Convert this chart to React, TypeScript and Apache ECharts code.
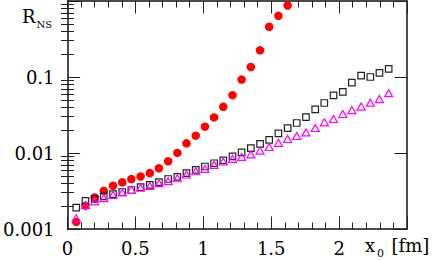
import React, { useEffect, useRef } from "react";
import * as echarts from "echarts";

const xValues = [
  0.064, 0.132, 0.2, 0.267, 0.335, 0.403, 0.47, 0.538, 0.606, 0.673, 0.741, 0.809,
  0.876, 0.944, 1.012, 1.079, 1.147, 1.215, 1.282, 1.35, 1.418, 1.485, 1.553, 1.621,
  1.688, 1.756, 1.824, 1.891, 1.959, 2.027, 2.094, 2.162, 2.23, 2.297, 2.365,
];

const redValues = [
  0.00124, 0.00203, 0.0026, 0.00318, 0.00371, 0.00412, 0.00454, 0.00491, 0.00545,
  0.0063, 0.00778, 0.01003, 0.0134, 0.0169, 0.0222, 0.0294, 0.0406, 0.0577, 0.0925,
  0.1355, 0.2244, 0.458, 0.638, 0.873,
];

const squareValues = [
  0.00191, 0.00234, 0.00249, 0.00268, 0.00287, 0.00307, 0.00326, 0.00355, 0.0038,
  0.00415, 0.00455, 0.00486, 0.00542, 0.006, 0.00664, 0.00733, 0.00802, 0.00905,
  0.01021, 0.0116, 0.01316, 0.01485, 0.0181, 0.0213, 0.0248, 0.0297, 0.0376, 0.0455,
  0.0574, 0.0638, 0.0842, 0.104, 0.1, 0.1132, 0.1277,
];

const triangleValues = [
  0.00138, 0.00205, 0.00231, 0.00255, 0.00281, 0.00303, 0.00328, 0.00349, 0.00368,
  0.00401, 0.00426, 0.00466, 0.00521, 0.00576, 0.00619, 0.00698, 0.00772, 0.00837,
  0.00889, 0.00959, 0.01075, 0.012, 0.0136, 0.0153, 0.01675, 0.01867, 0.0213, 0.0253,
  0.028, 0.0326, 0.0367, 0.0408, 0.046, 0.0512, 0.0613,
];

const xTickLabels = ["0", "0.5", "1", "1.5", "2"];
const yTickLabels = ["0.001", "0.01", "0.1"];
const yMinorTicks = [
  0.002, 0.003, 0.004, 0.005, 0.006, 0.007, 0.008, 0.009,
  0.02, 0.03, 0.04, 0.05, 0.06, 0.07, 0.08, 0.09,
  0.2, 0.3, 0.4, 0.5, 0.6, 0.7, 0.8, 0.9,
];

const FONT = '"DejaVu Serif"';
const AXIS_COLOR = "#111";
const TICK_COLOR = "#222";

export default function App() {
  const ref = useRef<HTMLDivElement>(null);

  useEffect(() => {
    if (!ref.current) return;
    const chart = echarts.init(ref.current, null, { renderer: "svg" });

    const xAxisBase = {
      type: "value",
      min: 0,
      max: 2.5,
      interval: 0.5,
      axisLine: { show: true, onZero: false, lineStyle: { color: AXIS_COLOR, width: 1.5 } },
      axisTick: { show: true, inside: true, length: 12.5, lineStyle: { color: TICK_COLOR, width: 1 } },
      minorTick: { show: true, splitNumber: 5, length: 6.5, lineStyle: { color: TICK_COLOR, width: 1 } },
      splitLine: { show: false },
      minorSplitLine: { show: false },
    };

    const yAxisBase = {
      type: "log",
      logBase: 10,
      min: 0.001,
      max: 1,
      splitLine: { show: false },
    };

    const pair = (vals: number[]) => vals.map((v, i) => [xValues[i], v]);

    chart.setOption({
      animation: false,
      backgroundColor: "#fff",
      grid: { left: 65, right: 29, top: 1, bottom: 32, containLabel: false },
      xAxis: [
        {
          ...xAxisBase,
          position: "bottom",
          axisLabel: {
            show: true,
            margin: 10,
            color: "#000",
            fontFamily: FONT,
            fontSize: 18,
            formatter: (_v: number, i: number) => xTickLabels[i] ?? "",
          },
        },
        {
          ...xAxisBase,
          position: "top",
          axisLabel: { show: false },
        },
      ],
      yAxis: [
        {
          ...yAxisBase,
          position: "left",
          axisLine: { show: true, onZero: false, lineStyle: { color: AXIS_COLOR, width: 1.5 } },
          axisTick: { show: true, inside: true, length: 12.5, lineStyle: { color: TICK_COLOR, width: 1 } },
          axisLabel: {
            show: true,
            margin: 13,
            color: "#000",
            fontFamily: FONT,
            fontSize: 18,
            formatter: (_v: number, i: number) => yTickLabels[i] ?? "",
          },
        },
        {
          ...yAxisBase,
          position: "left",
          axisLine: { show: false },
          axisTick: {
            show: true,
            inside: true,
            length: 6.5,
            customValues: yMinorTicks,
            lineStyle: { color: TICK_COLOR, width: 1 },
          },
          axisLabel: { show: false },
        },
        {
          ...yAxisBase,
          position: "right",
          axisLine: { show: true, onZero: false, lineStyle: { color: AXIS_COLOR, width: 1.5 } },
          axisTick: { show: true, inside: true, length: 12.5, lineStyle: { color: TICK_COLOR, width: 1 } },
          axisLabel: { show: false },
        },
        {
          ...yAxisBase,
          position: "right",
          axisLine: { show: false },
          axisTick: {
            show: true,
            inside: true,
            length: 6.5,
            customValues: yMinorTicks,
            lineStyle: { color: TICK_COLOR, width: 1 },
          },
          axisLabel: { show: false },
        },
      ],
      series: [
        {
          type: "scatter",
          xAxisIndex: 0,
          yAxisIndex: 0,
          symbol: "circle",
          symbolSize: 8.5,
          itemStyle: { color: "#ff0000", opacity: 1 },
          data: pair(redValues),
        },
        {
          type: "scatter",
          xAxisIndex: 0,
          yAxisIndex: 0,
          symbol: "rect",
          symbolSize: 6.5,
          itemStyle: { color: "transparent", borderColor: "#222", borderWidth: 1.2, opacity: 1 },
          data: pair(squareValues),
        },
        {
          type: "scatter",
          xAxisIndex: 0,
          yAxisIndex: 0,
          symbol: "triangle",
          symbolSize: [8, 7],
          itemStyle: { color: "transparent", borderColor: "#ff00ff", borderWidth: 1.2, opacity: 1 },
          data: pair(triangleValues),
        },
      ],
      graphic: [
        {
          type: "text",
          x: 22,
          y: 16.8,
          style: { text: "R", font: `18px ${FONT}`, fill: "#000", align: "left", verticalAlign: "middle" },
        },
        {
          type: "text",
          x: 36.5,
          y: 24.9,
          style: { text: "NS", font: `10px ${FONT}`, fill: "#000", align: "left", verticalAlign: "middle" },
        },
        {
          type: "text",
          x: 365,
          y: 245.5,
          style: { text: "x", font: `18px ${FONT}`, fill: "#000", align: "left", verticalAlign: "middle" },
        },
        {
          type: "text",
          x: 377,
          y: 253.9,
          style: { text: "0", font: `11px ${FONT}`, fill: "#000", align: "left", verticalAlign: "middle" },
        },
        {
          type: "text",
          x: 391.5,
          y: 245.5,
          style: { text: "[fm]", font: `18px ${FONT}`, fill: "#000", align: "left", verticalAlign: "middle" },
        },
      ],
    });

    return () => chart.dispose();
  }, []);

  return (
    <div
      ref={ref}
      style={{ position: "fixed", left: 0, top: 0, width: 436, height: 261, background: "#fff" }}
    />
  );
}
